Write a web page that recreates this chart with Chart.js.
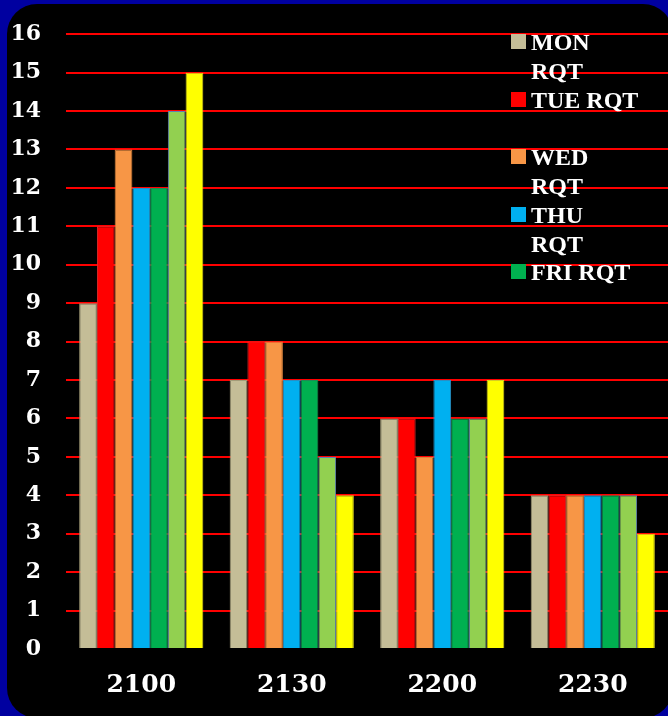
<!DOCTYPE html>
<html>
<head>
<meta charset="utf-8">
<script src="https://cdn.jsdelivr.net/npm/chart.js@4.4.1/dist/chart.umd.min.js"></script>
<style>
    html, body { margin: 0; padding: 0; }
    body {
        width: 668px;
        height: 716px;
        background: #0000a0;
        overflow: hidden;
        position: relative;
    }
    #panel {
        position: absolute;
        left: 7px;
        top: 4px;
        width: 666px;
        height: 714px;
        background: #000;
        border-radius: 30px;
    }
    /* shifted up a little: the y tick padding forces a fixed top inset */
    #wrap {
        position: absolute;
        left: 0;
        top: -4px;
        width: 668px;
        height: 720px;
    }
    #legend {
        position: absolute;
        left: 511px;
        top: 28px;
        font-family: "Liberation Serif", serif;
        font-weight: bold;
        font-size: 24px;
        color: #fff;
    }
    .item {
        position: relative;
        height: 57.5px;
        line-height: 29px;
    }
    .swatch {
        position: absolute;
        left: 0;
        top: 6px;
        width: 15px;
        height: 15px;
    }
    .label {
        position: absolute;
        left: 20px;
        top: 0;
        width: 109px;
    }
</style>
</head>
<body>
<div id="panel"></div>
<div id="wrap"><canvas id="chart" width="668" height="720"></canvas></div>
<div id="legend"></div>

<script>
const timeSlots = ['2100', '2130', '2200', '2230'];
const seriesNames = ['MON RQT', 'TUE RQT', 'WED RQT', 'THU RQT', 'FRI RQT', 'SAT RQT', 'SUN RQT'];
const seriesColors = ['#c4bd97', '#ff0000', '#f79646', '#00b0f0', '#00b050', '#92d050', '#ffff00'];
const seriesBorders = ['#a39c78', '#e03030', '#d9823c', '#2a8fc4', '#1f8a55', '#5f7fb4', '#d8d020'];

const monRqt = [9, 7, 6, 4];
const tueRqt = [11, 8, 6, 4];
const wedRqt = [13, 8, 5, 4];
const thuRqt = [12, 7, 7, 4];
const friRqt = [12, 7, 6, 4];
const satRqt = [14, 5, 6, 4];
const sunRqt = [15, 4, 7, 3];

const seriesValues = [monRqt, tueRqt, wedRqt, thuRqt, friRqt, satRqt, sunRqt];
const legendCount = 5; // only the first five names fit in the original legend

const datasets = seriesNames.map((name, i) => ({
    label: name,
    data: seriesValues[i],
    backgroundColor: seriesColors[i],
    borderColor: seriesBorders[i],
    borderWidth: 1,
    barPercentage: 1,
    categoryPercentage: 0.825
}));

const ctx = document.getElementById('chart').getContext('2d');

new Chart(ctx, {
    type: 'bar',
    data: {
        labels: timeSlots,
        datasets: datasets
    },
    options: {
        responsive: false,
        animation: false,
        layout: {
            padding: 0
        },
        scales: {
            x: {
                grid: { display: false, drawTicks: false },
                border: { display: false },
                ticks: {
                    color: '#fff',
                    padding: 21,
                    font: { family: 'DejaVu Serif', weight: 'bold', size: 25 }
                },
                afterFit: (scale) => { scale.height = 67; }
            },
            y: {
                min: 0,
                max: 16,
                grid: {
                    drawTicks: false,
                    lineWidth: 2,
                    color: (c) => c.tick && c.tick.value === 0 ? 'rgba(0,0,0,0)' : '#ff0000'
                },
                border: { display: false },
                ticks: {
                    stepSize: 1,
                    color: '#fff',
                    padding: 25,
                    font: { family: 'DejaVu Serif', weight: 'bold', size: 22 }
                },
                afterFit: (scale) => { scale.width = 66; }
            }
        },
        plugins: {
            legend: { display: false },
            tooltip: { enabled: false }
        }
    }
});

// legend drawn by hand so the item spacing follows the original
const legendBox = document.getElementById('legend');
seriesNames.slice(0, legendCount).forEach((name, i) => {
    legendBox.insertAdjacentHTML('beforeend', `
        <div class="item">
            <div class="swatch" style="background:${seriesColors[i]}"></div>
            <div class="label">${name}</div>
        </div>
    `);
});
</script>
</body>
</html>
